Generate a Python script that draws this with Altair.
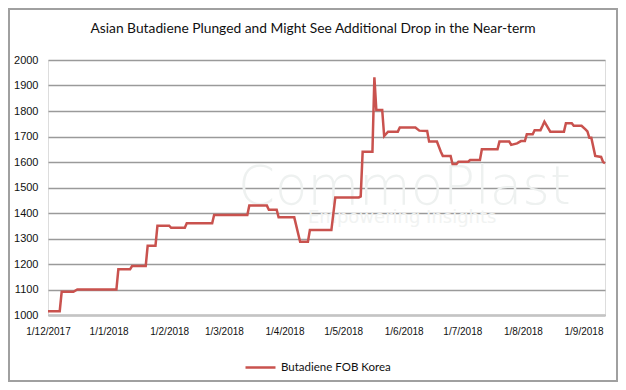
import altair as alt
import pandas as pd

dates = [
    "2017-12-01", "2017-12-07", "2017-12-08", "2017-12-14", "2017-12-16",
    "2018-01-05", "2018-01-06", "2018-01-12", "2018-01-13", "2018-01-20",
    "2018-01-21", "2018-01-25", "2018-01-26", "2018-02-01", "2018-02-02",
    "2018-02-09", "2018-02-10", "2018-02-23", "2018-02-24", "2018-03-13",
    "2018-03-14", "2018-03-23", "2018-03-24", "2018-03-28", "2018-03-29",
    "2018-04-06", "2018-04-09", "2018-04-13", "2018-04-14", "2018-04-25",
    "2018-04-27", "2018-05-09", "2018-05-10", "2018-05-11", "2018-05-16",
    "2018-05-17", "2018-05-18", "2018-05-21", "2018-05-22", "2018-05-24",
    "2018-05-29", "2018-05-30", "2018-06-07", "2018-06-09", "2018-06-13",
    "2018-06-14", "2018-06-18", "2018-06-20", "2018-06-21", "2018-06-25",
    "2018-06-26", "2018-06-28", "2018-06-29", "2018-07-04", "2018-07-05",
    "2018-07-10", "2018-07-11", "2018-07-19", "2018-07-20", "2018-07-25",
    "2018-07-26", "2018-07-29", "2018-07-31", "2018-08-02", "2018-08-03",
    "2018-08-06", "2018-08-07", "2018-08-10", "2018-08-11", "2018-08-12",
    "2018-08-14", "2018-08-15", "2018-08-22", "2018-08-23", "2018-08-26",
    "2018-08-27", "2018-08-31", "2018-09-02", "2018-09-03", "2018-09-04",
    "2018-09-05", "2018-09-07", "2018-09-10", "2018-09-11", "2018-09-12",
]
values = [
    1015, 1015, 1091, 1091, 1100,
    1100, 1179, 1179, 1192, 1192,
    1272, 1272, 1350, 1350, 1342,
    1342, 1360, 1360, 1392, 1392,
    1429, 1429, 1413, 1413, 1383,
    1383, 1287, 1287, 1333, 1333,
    1461, 1461, 1465, 1640, 1640,
    1932, 1804, 1804, 1702, 1719,
    1719, 1735, 1735, 1723, 1722,
    1680, 1680, 1640, 1624, 1624,
    1592, 1592, 1601, 1601, 1608,
    1608, 1650, 1650, 1680, 1680,
    1667, 1673, 1682, 1682, 1709,
    1709, 1725, 1725, 1741, 1758,
    1732, 1719, 1719, 1752, 1752,
    1742, 1742, 1728, 1720, 1695,
    1695, 1624, 1620, 1600, 1595,
]
series_name = "Butadiene FOB Korea"
title_text = "Asian Butadiene Plunged and Might See Additional Drop in the Near-term"
tick_dates = ["2017-12-01", "2018-01-01", "2018-02-01", "2018-03-01", "2018-04-01",
              "2018-05-01", "2018-06-01", "2018-07-01", "2018-08-01", "2018-09-01"]
y_ticks = list(range(1000, 2001, 100))

df = pd.DataFrame({"date": dates, "price": values, "series": series_name})

W, H = 557, 255

line = alt.Chart(df).mark_line(strokeWidth=2.5, interpolate="linear").encode(
    x=alt.X("date:T",
            scale=alt.Scale(domain=["2017-12-01", "2018-09-12"]),
            axis=alt.Axis(values=tick_dates, format="%-d/%-m/%Y", title=None,
                          grid=False, ticks=False, labelPadding=11,
                          labelOverlap=False, labelFlush=False,
                          domainColor="#c4c4c4", domainWidth=2.5,
                          labelFont="Liberation Sans", labelFontSize=10,
                          labelColor="#111", labelAngle=0)),
    y=alt.Y("price:Q",
            scale=alt.Scale(domain=[1000, 2000], nice=False, zero=False),
            axis=alt.Axis(values=y_ticks, format="d", title=None, domain=False, ticks=False,
                          grid=True, gridColor="#9a9a9a", gridWidth=1.5,
                          labelPadding=10, labelFont="Liberation Sans",
                          labelFontSize=11, labelColor="#111")),
    color=alt.Color("series:N",
                    scale=alt.Scale(range=["#c9524e"]),
                    legend=alt.Legend(title=None, orient="none", legendX=196, legendY=291,
                                      symbolType="stroke", symbolSize=900,
                                      symbolStrokeWidth=2.5, labelFont="Lato",
                                      labelFontSize=11.5, labelColor="#111",
                                      labelOffset=4)),
)

wm = pd.DataFrame({"t": ["CommoPlast"]})
watermark = alt.Chart(wm).mark_text(
    font="DejaVu Sans", fontSize=53, fontWeight=200, color="#eef1f0", align="left",
    baseline="alphabetic"
).encode(text="t:N", x=alt.value(190), y=alt.value(144))

wm2 = pd.DataFrame({"t": ["Empowering Insights"]})
watermark2 = alt.Chart(wm2).mark_text(
    font="DejaVu Sans", fontSize=18, color="#f1f3f2", align="left", baseline="middle"
).encode(text="t:N", x=alt.value(260), y=alt.value(158))

ttl = pd.DataFrame({"t": [title_text]})
title_mark = alt.Chart(ttl).mark_text(
    font="Lato", fontSize=13.8, color="#111", align="center", baseline="middle"
).encode(text="t:N", x=alt.value(265), y=alt.value(-31))

frame = alt.Chart(wm).mark_rect(fill=None, stroke="#a0a0a0", strokeWidth=2, clip=False).encode(
    x=alt.value(-39), x2=alt.value(569), y=alt.value(-51), y2=alt.value(321)
)

chart = alt.layer(watermark, watermark2, line, title_mark, frame).properties(
    width=W, height=H,
    autosize=alt.AutoSizeParams(type="none"),
    padding={"left": 40, "top": 52, "right": 13, "bottom": 67},
).configure_view(stroke=None).configure(background="white")

chart.save("out.html", embed_options={"renderer": "svg", "actions": False})
